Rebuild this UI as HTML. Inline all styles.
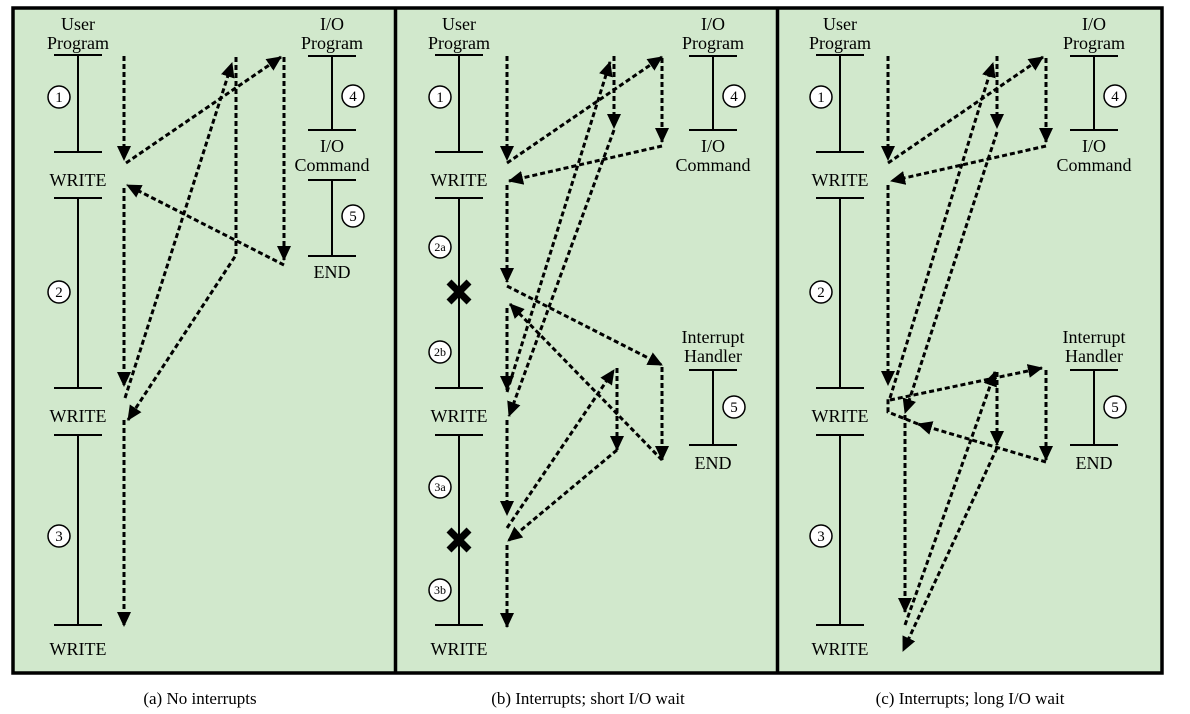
<!DOCTYPE html>
<html><head><meta charset="utf-8"><style>
html,body{margin:0;padding:0;background:#fff;width:1190px;height:714px;overflow:hidden}
text{font-family:"Liberation Serif",serif;fill:#000}
</style></head><body>
<svg width="1190" height="714" viewBox="0 0 1190 714" xmlns="http://www.w3.org/2000/svg">
<defs>
<marker id="ah" markerWidth="16" markerHeight="14" refX="14" refY="7" orient="auto" markerUnits="userSpaceOnUse">
<path d="M0,0 L15,7 L0,14 z" fill="#000"/></marker>
</defs>
<rect x="13" y="8" width="1149" height="665" fill="#d1e8cc" stroke="#000" stroke-width="3.5"/>
<line x1="395.5" y1="8" x2="395.5" y2="673" stroke="#000" stroke-width="3.5"/>
<line x1="777.5" y1="8" x2="777.5" y2="673" stroke="#000" stroke-width="3.5"/>

<g font-size="18" text-anchor="middle">
<!-- panel a -->
<text x="78" y="30">User</text><text x="78" y="49">Program</text>
<text x="78" y="186">WRITE</text><text x="78" y="422">WRITE</text><text x="78" y="655">WRITE</text>
<text x="332" y="30">I/O</text><text x="332" y="49">Program</text>
<text x="332" y="152">I/O</text><text x="332" y="171">Command</text>
<text x="332" y="278">END</text>
<!-- panel b -->
<text x="459" y="30">User</text><text x="459" y="49">Program</text>
<text x="459" y="186">WRITE</text><text x="459" y="422">WRITE</text><text x="459" y="655">WRITE</text>
<text x="713" y="30">I/O</text><text x="713" y="49">Program</text>
<text x="713" y="152">I/O</text><text x="713" y="171">Command</text>
<text x="713" y="343">Interrupt</text><text x="713" y="362">Handler</text>
<text x="713" y="469">END</text>
<!-- panel c -->
<text x="840" y="30">User</text><text x="840" y="49">Program</text>
<text x="840" y="186">WRITE</text><text x="840" y="422">WRITE</text><text x="840" y="655">WRITE</text>
<text x="1094" y="30">I/O</text><text x="1094" y="49">Program</text>
<text x="1094" y="152">I/O</text><text x="1094" y="171">Command</text>
<text x="1094" y="343">Interrupt</text><text x="1094" y="362">Handler</text>
<text x="1094" y="469">END</text>
<!-- captions -->
<text x="200" y="704" font-size="17">(a) No interrupts</text>
<text x="588" y="704" font-size="17">(b) Interrupts; short I/O wait</text>
<text x="970" y="704" font-size="17">(c) Interrupts; long I/O wait</text>
</g>

<g stroke="#000" stroke-width="2" fill="none">
<!-- user bars -->
<path d="M54,55H102M78,55V152M54,152H102M54,198H102M78,198V388M54,388H102M54,435H102M78,435V625M54,625H102"/>
<path d="M435,55H483M459,55V152M435,152H483M435,198H483M459,198V388M435,388H483M435,435H483M459,435V625M435,625H483"/>
<path d="M816,55H864M840,55V152M816,152H864M816,198H864M840,198V388M816,388H864M816,435H864M840,435V625M816,625H864"/>
<!-- io bars -->
<path d="M308,56H356M332,56V130M308,130H356M308,180H356M332,180V256M308,256H356"/>
<path d="M689,56H737M713,56V130M689,130H737M689,370H737M713,370V445M689,445H737"/>
<path d="M1070,56H1118M1094,56V130M1070,130H1118M1070,370H1118M1094,370V445M1070,445H1118"/>
</g>

<!-- circles -->
<g font-size="15" text-anchor="middle">
<g fill="#fff" stroke="#000" stroke-width="1.5">
<circle cx="59" cy="97" r="11"/><circle cx="59" cy="292" r="11"/><circle cx="59" cy="536" r="11"/>
<circle cx="353" cy="96" r="11"/><circle cx="353" cy="216" r="11"/>
<circle cx="440" cy="97" r="11"/><circle cx="440" cy="247" r="11"/><circle cx="440" cy="352" r="11"/><circle cx="440" cy="487" r="11"/><circle cx="440" cy="590" r="11"/>
<circle cx="734" cy="96" r="11"/><circle cx="734" cy="407" r="11"/>
<circle cx="821" cy="97" r="11"/><circle cx="821" cy="292" r="11"/><circle cx="821" cy="536" r="11"/>
<circle cx="1115" cy="96" r="11"/><circle cx="1115" cy="407" r="11"/>
</g>
<text x="59" y="102">1</text><text x="59" y="297">2</text><text x="59" y="541">3</text>
<text x="353" y="101">4</text><text x="353" y="221">5</text>
<text x="440" y="102">1</text><text x="440" y="251" font-size="12">2a</text><text x="440" y="356" font-size="12">2b</text><text x="440" y="491" font-size="12">3a</text><text x="440" y="594" font-size="12">3b</text>
<text x="734" y="101">4</text><text x="734" y="412">5</text>
<text x="821" y="102">1</text><text x="821" y="297">2</text><text x="821" y="541">3</text>
<text x="1115" y="101">4</text><text x="1115" y="412">5</text>
</g>

<!-- X marks -->
<g stroke="#000" stroke-width="7">
<path d="M449,282L469,302M469,282L449,302"/>
<path d="M449,530L469,550M469,530L449,550"/>
</g>

<g stroke="#000" stroke-width="3" stroke-dasharray="5 3" fill="none" marker-end="url(#ah)">
<!-- panel a -->
<line x1="124" y1="56" x2="124" y2="160"/>
<line x1="126" y1="163" x2="281" y2="57"/>
<line x1="284" y1="57" x2="284" y2="260"/>
<line x1="284" y1="265" x2="127" y2="185"/>
<line x1="124" y1="188" x2="124" y2="386"/>
<line x1="125" y1="398" x2="232" y2="63"/>
<polyline points="236,57 236,255 128,420"/>
<line x1="124" y1="420" x2="124" y2="626"/>
<!-- panel b -->
<line x1="507" y1="56" x2="507" y2="160"/>
<line x1="507" y1="163" x2="662" y2="57"/>
<line x1="662" y1="58" x2="662" y2="142"/>
<line x1="662" y1="146" x2="509" y2="181"/>
<line x1="507" y1="185" x2="507" y2="282"/>
<line x1="507" y1="286" x2="662" y2="365"/>
<line x1="662" y1="367" x2="662" y2="460"/>
<line x1="662" y1="460" x2="510" y2="304"/>
<line x1="507" y1="308" x2="507" y2="390"/>
<line x1="614" y1="56" x2="614" y2="128"/>
<line x1="507" y1="392" x2="610" y2="62"/>
<line x1="614" y1="130" x2="509" y2="416"/>
<line x1="507" y1="420" x2="507" y2="515"/>
<line x1="507" y1="528" x2="614" y2="370"/>
<line x1="617" y1="368" x2="617" y2="450"/>
<line x1="617" y1="450" x2="508" y2="541"/>
<line x1="507" y1="545" x2="507" y2="627"/>
<!-- panel c -->
<line x1="888" y1="56" x2="888" y2="160"/>
<line x1="888" y1="163" x2="1043" y2="57"/>
<line x1="1046" y1="58" x2="1046" y2="142"/>
<line x1="1046" y1="146" x2="891" y2="181"/>
<line x1="888" y1="185" x2="888" y2="385"/>
<line x1="890" y1="400" x2="1042" y2="368"/>
<line x1="1046" y1="370" x2="1046" y2="460"/>
<polyline points="1046,462 918,424"/>
<line x1="997" y1="56" x2="997" y2="128"/>
<line x1="890" y1="398" x2="993" y2="63"/>
<line x1="997" y1="132" x2="905" y2="413"/>
<line x1="905" y1="415" x2="905" y2="612"/>
<line x1="905" y1="625" x2="995" y2="372"/>
<line x1="997" y1="372" x2="997" y2="445"/>
<line x1="997" y1="448" x2="903" y2="651"/>
</g>
<g stroke="#000" stroke-width="3" stroke-dasharray="5 3" fill="none">
<polyline points="918,424 888,412 888,398"/>
</g>
</svg>
</body></html>
